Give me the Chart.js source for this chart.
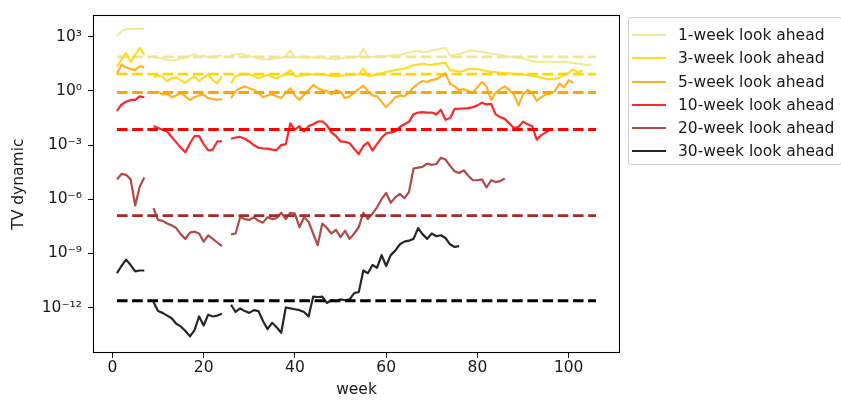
<!DOCTYPE html>
<html><head><meta charset="utf-8">
<script src="https://cdn.jsdelivr.net/npm/chart.js@4.4.1/dist/chart.umd.min.js"></script>
<style>
html,body{margin:0;padding:0;background:#fff;}
#wrap{position:relative;width:841px;height:403px;overflow:hidden;}
#legend{position:absolute;left:628px;top:17px;width:214px;height:148px;border:1px solid #d0d0d0;border-radius:3px;background:#fff;box-sizing:border-box;font-family:'DejaVu Sans';font-size:15.5px;color:#1a1a1a;}
.item{position:absolute;left:0;height:20px;display:flex;align-items:center;white-space:nowrap;}
.swatch{display:inline-block;width:34px;height:2px;margin-left:3px;margin-right:12px;}
</style></head>
<body><div id="wrap"><canvas id="c" width="841" height="403"></canvas><div id="legend"></div></div>
<script>
// weeks (x categories)
const weeks = [1,2,3,4,5,6,7,8,9,10,11,12,13,14,15,16,17,18,19,20,21,22,23,24,25,26,27,28,29,30,
31,32,33,34,35,36,37,38,39,40,41,42,43,44,45,46,47,48,49,50,51,52,53,54,55,56,57,58,59,60,
61,62,63,64,65,66,67,68,69,70,71,72,73,74,75,76,77,78,79,80,81,82,83,84,85,86,87,88,89,90,
91,92,93,94,95,96,97,98,99,100,101,102,103,104,105,106];

// Series values as log10(TV dynamic); null = gap (week 8 and 25)
const wk1Exp = [3.05,3.3,3.42,3.44,3.44,3.44,3.44, null,
 1.9,1.85,1.8,1.72,1.68,1.72,1.78,1.85,1.95,2.05,1.9,1.95,1.85,1.9,1.95,1.95, null,
 1.98,2.03,2.07,2.0,1.93,1.88,1.8,1.74,1.76,1.78,
 1.8,1.84,1.95,2.25,1.86,1.88,1.86,1.85,1.86,1.85,
 1.84,1.8,1.77,1.74,1.78,1.84,1.86,1.87,1.9,2.34,
 1.86,1.88,1.9,1.93,1.94,1.96,1.98,2.0,2.05,2.12,
 2.2,2.22,2.15,2.16,2.25,2.27,2.35,2.4,1.95,2.0,
 2.05,2.12,2.2,2.25,2.2,2.16,2.12,2.06,2.03,2.0,
 1.95,1.9,1.88,1.84,1.8,1.72,1.65,1.61,1.62,1.61,
 1.63,1.61,1.6,1.62,1.58,1.55,1.52,1.48,1.43,1.47];

const wk3Exp = [1.35,1.75,2.1,1.6,2.0,2.38,2.0, null,
 0.75,0.85,0.8,0.55,0.7,0.75,0.6,0.45,0.65,0.8,0.55,0.75,0.9,0.6,0.42,0.8, null,
 0.42,0.82,0.88,0.95,0.92,0.82,0.7,0.8,0.88,0.78,
 0.7,0.82,0.95,1.15,0.82,0.85,0.86,0.9,0.93,0.9,
 0.91,0.88,0.85,0.82,0.84,0.87,0.88,0.9,0.92,1.24,
 0.82,0.86,0.9,0.97,1.05,1.1,1.15,1.2,1.24,1.32,
 1.43,1.46,1.52,1.45,1.44,1.5,1.53,1.55,1.15,1.12,
 1.06,1.12,1.2,1.24,1.2,1.16,1.1,1.06,1.04,1.0,
 0.98,0.97,0.95,0.92,0.9,0.88,0.84,0.8,0.74,0.67,
 0.65,0.67,0.75,0.88,1.0,1.19,1.02,1.15];

const wk5Exp = [0.95,1.45,1.3,1.22,1.15,1.38,1.3, null,
 -0.1,-0.05,-0.2,-0.15,-0.35,-0.25,-0.1,-0.3,-0.5,-0.35,-0.25,-0.2,-0.4,-0.45,-0.5,-0.45, null,
 -0.4,0.0,0.15,0.25,0.15,0.05,-0.1,-0.35,-0.25,-0.2,
 -0.3,-0.4,-0.1,0.15,-0.25,-0.5,-0.2,0.05,0.33,0.15,
 0.05,0.0,-0.2,0.05,-0.05,-0.4,-0.3,-0.1,0.1,0.3,
 0.0,-0.25,-0.3,-0.6,-0.9,-0.65,-0.35,-0.25,-0.3,-0.1,
 0.2,0.4,0.55,0.5,0.6,0.65,0.8,0.97,0.4,0.25,
 0.05,0.1,0.0,-0.1,0.2,0.5,0.25,-0.5,-0.1,0.1,
 0.25,0.05,-0.2,-0.8,-0.2,0.05,-0.1,-0.55,-0.35,-0.2,
 -0.15,0.0,0.42,0.2,0.6,0.45];

const wk10Exp = [-1.1,-0.75,-0.6,-0.5,-0.5,-0.3,-0.35, null,
 -1.95,-2.05,-2.15,-2.25,-2.55,-2.85,-3.15,-3.4,-2.9,-2.5,-2.5,-2.95,-3.3,-3.25,-2.8,-2.8, null,
 -2.65,-2.58,-2.55,-2.65,-2.8,-3.0,-3.15,-3.18,-3.2,-3.25,
 -3.28,-3.0,-2.95,-1.8,-2.15,-1.95,-2.25,-1.95,-1.85,-1.7,
 -1.68,-1.9,-2.3,-2.5,-2.8,-2.82,-2.9,-3.2,-3.5,-3.05,
 -2.85,-3.3,-2.95,-2.6,-2.35,-2.3,-2.25,-2.0,-1.85,-1.7,
 -1.3,-1.2,-1.18,-1.2,-1.2,-1.3,-1.05,-1.6,-1.5,-1.0,
 -0.98,-0.97,-0.95,-0.9,-0.8,-0.65,-0.75,-0.72,-1.3,-1.45,
 -1.55,-1.8,-2.05,-2.0,-1.7,-1.85,-1.95,-2.7,-2.45,-2.3,
 -2.15];

const wk20Exp = [-4.9,-4.6,-4.65,-4.9,-6.35,-5.3,-4.8, null,
 -6.5,-7.15,-7.2,-7.35,-7.45,-7.6,-7.95,-8.2,-7.85,-7.8,-7.9,-8.35,-8.0,-8.2,-8.4,-8.6, null,
 -7.95,-7.9,-7.0,-7.1,-7.15,-7.0,-7.2,-7.3,-7.0,-7.1,
 -7.05,-6.75,-7.1,-6.75,-6.8,-7.55,-7.0,-7.25,-7.9,-8.55,
 -7.35,-7.6,-7.9,-7.7,-8.1,-7.75,-8.2,-7.9,-7.55,-6.75,
 -7.1,-6.8,-6.45,-6.0,-5.65,-6.2,-5.9,-5.7,-5.95,-5.6,
 -4.3,-4.25,-4.2,-4.03,-4.1,-4.05,-3.7,-3.8,-4.15,-4.45,
 -4.55,-4.4,-4.7,-4.95,-4.95,-4.9,-5.35,-4.95,-5.05,-5.0,
 -4.85];

const wk30Exp = [-10.1,-9.7,-9.35,-9.65,-10.0,-9.95,-9.95, null,
 -11.7,-12.2,-12.3,-12.45,-12.6,-12.9,-13.05,-13.3,-13.6,-13.25,-12.5,-13.0,-12.4,-12.5,-12.45,-12.35, null,
 -11.85,-12.25,-12.05,-12.2,-12.3,-12.15,-12.2,-12.75,-13.2,-12.85,
 -13.1,-13.4,-12.0,-12.05,-12.1,-12.15,-12.25,-12.5,-11.4,-11.42,
 -11.4,-11.75,-11.6,-11.65,-11.55,-11.6,-11.55,-11.2,-11.15,-9.95,
 -10.1,-9.65,-9.8,-9.1,-9.7,-9.1,-8.85,-8.5,-8.35,-8.3,
 -8.2,-7.6,-7.95,-8.2,-7.9,-8.05,-8.0,-8.15,-8.5,-8.65,
 -8.6];

// dashed reference levels (log10), one per series, spanning weeks 1..106
const meanExp = [1.885, 0.93, -0.09, -2.14, -6.91, -11.63];
const dashSpan = [1, 106];

const seriesLabels = ['1-week look ahead','3-week look ahead','5-week look ahead','10-week look ahead','20-week look ahead','30-week look ahead'];
const seriesExp = [wk1Exp, wk3Exp, wk5Exp, wk10Exp, wk20Exp, wk30Exp];

const xTicks = [0, 20, 40, 60, 80, 100];
const yTickValues = [1e-12, 1e-9, 1e-6, 1e-3, 1e0, 1e3];
const yTickLabels = ['10\u207B\u00B9\u00B2','10\u207B\u2079','10\u207B\u2076','10\u207B\u00B3','10\u2070','10\u00B3'];

// styles
const solidColors = ['rgba(240,230,140,0.85)','rgba(255,215,0,0.85)','rgba(255,165,0,0.85)','rgba(255,0,0,0.85)','rgba(165,42,42,0.85)','rgba(0,0,0,0.85)'];
const dashColors = ['#F0E68C','#FFD700','#FFA500','#FF0000','#A52A2A','#000000'];

const datasets = [];
seriesExp.forEach((arr, i) => {
  datasets.push({
    label: seriesLabels[i],
    data: arr.map((e, j) => ({x: weeks[j], y: e === null ? null : Math.pow(10, e)})),
    borderColor: solidColors[i], borderWidth: 2.2, pointRadius: 0, tension: 0,
    spanGaps: false, fill: false, borderJoinStyle: 'round', borderCapStyle: 'butt',
    order: 100 - 2 * i
  });
  datasets.push({
    label: seriesLabels[i] + ' (mean)',
    data: dashSpan.map(w => ({x: w, y: Math.pow(10, meanExp[i])})),
    borderColor: dashColors[i], borderWidth: 2.9, borderDash: [10.6, 4.6], pointRadius: 0,
    tension: 0, fill: false, borderCapStyle: 'butt',
    order: 99 - 2 * i
  });
});

const frame = {
  id: 'frame',
  afterDatasetsDraw(chart) {
    const {ctx, chartArea: a} = chart;
    ctx.save();
    ctx.strokeStyle = '#000'; ctx.lineWidth = 1.1;
    ctx.strokeRect(Math.round(a.left) + 0.5, Math.round(a.top) + 0.5, Math.round(a.right - a.left) - 1, Math.round(a.bottom - a.top) - 1);
    ctx.restore();
  }
};

const font = {family: 'DejaVu Sans', size: 15.5};
new Chart(document.getElementById('c'), {
  type: 'line',
  data: {datasets},
  options: {
    responsive: false, animation: false, devicePixelRatio: 1,
    layout: {padding: {left: 0, right: 221, top: 13, bottom: 0}},
    plugins: {legend: {display: false}, tooltip: {enabled: false}},
    scales: {
      x: {
        type: 'linear', min: -4.25, max: 111.25,
        afterBuildTicks: s => { s.ticks = xTicks.map(v => ({value: v})); },
        afterFit: s => { s.height = 50; },
        ticks: {callback: v => String(v), font, color: '#1a1a1a', padding: 1, maxRotation: 0, autoSkip: false},
        grid: {display: true, drawOnChartArea: false, drawTicks: true, tickLength: 5, color: '#000', lineWidth: 1},
        border: {display: false},
        title: {display: true, text: 'week', font, color: '#1a1a1a', padding: {top: 0, bottom: 4}}
      },
      y: {
        type: 'logarithmic', min: 3.3e-15, max: 1.55e4,
        afterBuildTicks: s => { s.ticks = yTickValues.map(v => ({value: v})); },
        afterFit: s => { s.width = 93; },
        ticks: {callback: (v, i) => yTickLabels[i], font, color: '#1a1a1a', padding: 6, autoSkip: false},
        grid: {display: true, drawOnChartArea: false, drawTicks: true, tickLength: 5, color: '#000', lineWidth: 1},
        border: {display: false},
        title: {display: true, text: 'TV dynamic', font, color: '#1a1a1a', padding: {top: 10, bottom: 0}}
      }
    }
  },
  plugins: [frame]
});

// legend (HTML)
const lg = document.getElementById('legend');
seriesLabels.forEach((t, i) => {
  const d = document.createElement('div');
  d.className = 'item';
  d.style.top = (7 + i * 23.25) + 'px';
  const s = document.createElement('span');
  s.className = 'swatch'; s.style.background = solidColors[i];
  d.appendChild(s);
  d.appendChild(document.createTextNode(t));
  lg.appendChild(d);
});
</script>
</body></html>
